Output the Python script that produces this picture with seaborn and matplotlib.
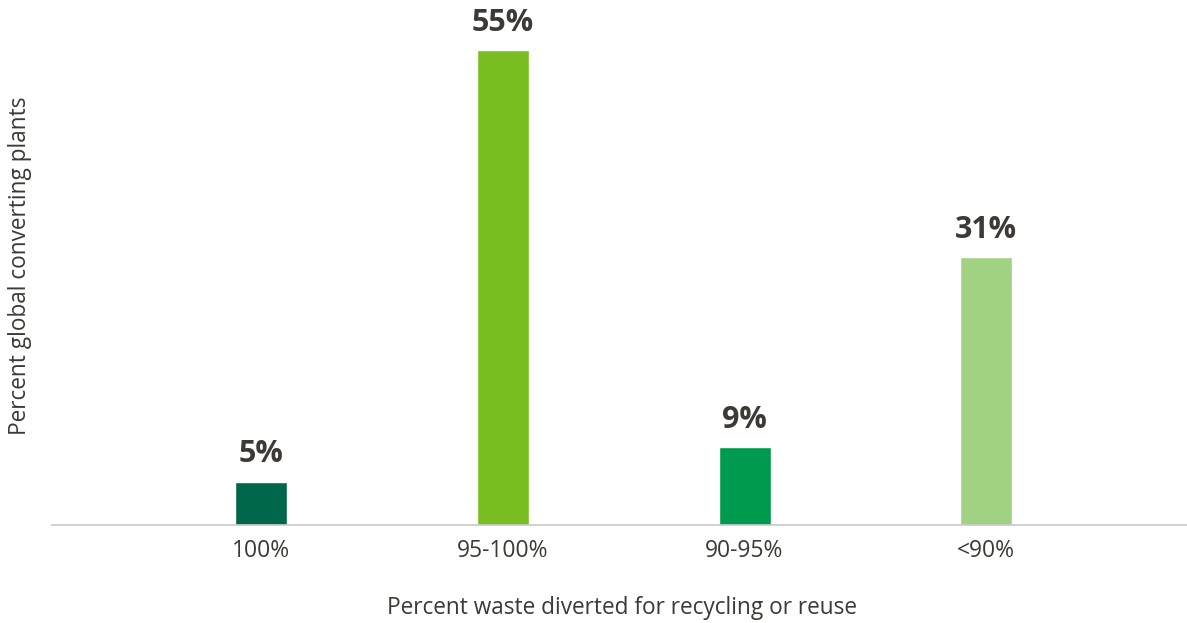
import matplotlib
matplotlib.use("Agg")
import matplotlib.pyplot as plt
import seaborn as sns
import pandas as pd

categories = ["100%", "95-100%", "90-95%", "<90%"]
values = [5, 55, 9, 31]
colors = ["#00674A", "#78BE20", "#009A4E", "#A1D183"]

sns.set_theme(style="white")
plt.rcParams['font.family'] = ['Open Sans', 'DejaVu Sans']
text_color = "#3D3935"

df = pd.DataFrame({"cat": categories, "val": values})

fig = plt.figure(figsize=(11.87, 6.23), dpi=100)
ax = fig.add_axes([52/1187, 98/623, 1 - 52/1187, 525/623])
sns.barplot(data=df, x="cat", y="val", hue="cat", palette=colors, legend=False,
            width=0.215, ax=ax, saturation=1)

ax.set_xlim(-0.864, 3.83)
ax.set_ylim(0, 60.8)
for s in ["top", "right", "left"]:
    ax.spines[s].set_visible(False)
ax.spines["bottom"].set_color("#C8C8C8")
ax.spines["bottom"].set_linewidth(1.2)
ax.set_yticks([])
ax.tick_params(axis="x", length=0, pad=10, labelsize=16.5, labelcolor=text_color)

for i, v in enumerate(values):
    ax.annotate(f"{v}%", (i, v), xytext=(0, 9), textcoords="offset points",
                ha="center", va="bottom", fontsize=22, fontweight="bold", color=text_color)

ax.set_xlabel("")
ax.set_ylabel("")
fig.text(622/1187, 1 - 608/623, "Percent waste diverted for recycling or reuse",
         ha="center", va="center", fontsize=16.3, color=text_color)
fig.text(20/1187, 1 - 266/623, "Percent global converting plants", rotation=90,
         ha="center", va="center", fontsize=16.3, color=text_color)

fig.savefig("out.png", dpi=100)
